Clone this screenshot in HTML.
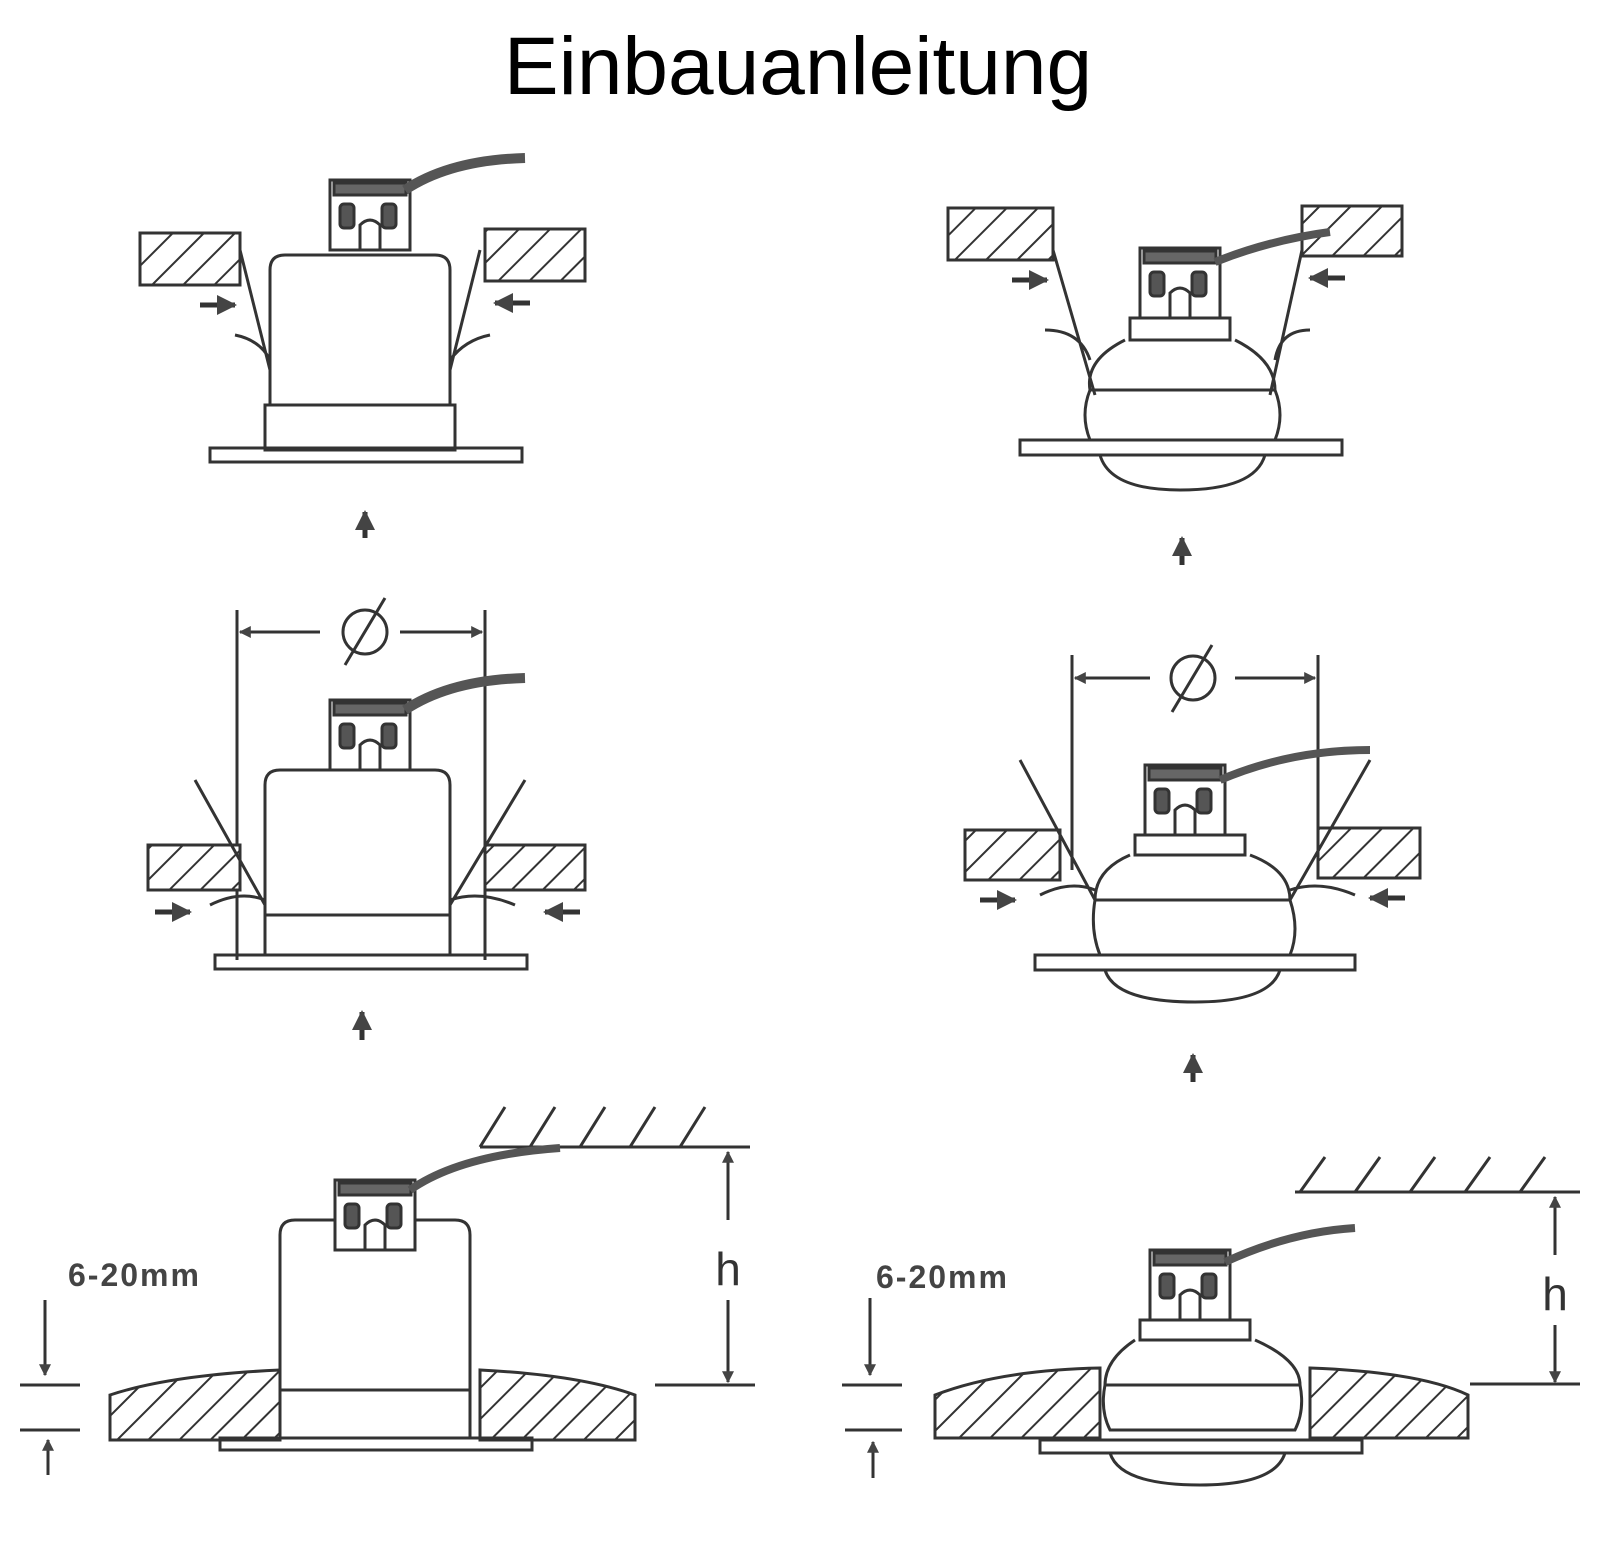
<!DOCTYPE html>
<html><head><meta charset="utf-8"><style>
html,body{margin:0;padding:0;background:#fff}
svg{display:block}
</style></head><body>
<svg width="1600" height="1547" viewBox="0 0 1600 1547" xmlns="http://www.w3.org/2000/svg">
<defs>
<pattern id="h" width="22" height="22" patternUnits="userSpaceOnUse" patternTransform="rotate(45)">
<rect width="22" height="22" fill="#fff"/><line x1="0" y1="0" x2="0" y2="22" stroke="#333" stroke-width="4"/>
</pattern>
<marker id="a" viewBox="0 0 10 10" refX="9" refY="5" markerWidth="4" markerHeight="4" orient="auto-start-reverse"><path d="M0,0L10,5L0,10z" fill="#444"/></marker>
<g id="conn">
<rect x="0" y="0" width="80" height="70" fill="#fff" stroke="#333" stroke-width="3"/>
<rect x="4" y="3" width="72" height="12" fill="#666"/>
<rect x="10" y="24" width="14" height="24" rx="4" fill="#555"/>
<rect x="52" y="24" width="14" height="24" rx="4" fill="#555"/>
<path d="M30,70 V45 Q40,35 50,45 V70" fill="none" stroke="#333" stroke-width="3"/>
</g>
</defs>
<rect width="1600" height="1547" fill="#fff"/>
<text x="798" y="94" font-family="Liberation Sans, sans-serif" font-size="82" text-anchor="middle" fill="#000">Einbauanleitung</text>
<g fill="none" stroke="#333" stroke-width="3">

<!-- Panel 1 -->
<rect x="140" y="233" width="100" height="52" fill="url(#h)"/>
<rect x="485" y="229" width="100" height="52" fill="url(#h)"/>
<path d="M270,405 V270 Q270,255 285,255 H435 Q450,255 450,270 V405"/>
<rect x="265" y="405" width="190" height="45"/>
<rect x="210" y="448" width="312" height="14"/>
<use href="#conn" x="330" y="180"/>
<path d="M405,190 Q450,160 525,158" stroke-width="10" stroke="#555"/>
<path d="M240,250 L270,370 M235,335 Q260,340 270,360 M480,250 L450,370 M490,335 Q465,340 450,360"/>
<line x1="200" y1="305" x2="235" y2="305" marker-end="url(#a)" stroke-width="5"/>
<line x1="530" y1="303" x2="495" y2="303" marker-end="url(#a)" stroke-width="5"/>
<line x1="365" y1="538" x2="365" y2="512" marker-end="url(#a)" stroke-width="5"/>

<!-- Panel 3 -->
<line x1="237" y1="610" x2="237" y2="960"/><line x1="485" y1="610" x2="485" y2="960"/>
<line x1="320" y1="632" x2="240" y2="632" marker-end="url(#a)"/><line x1="400" y1="632" x2="482" y2="632" marker-end="url(#a)"/>
<circle cx="365" cy="632" r="22"/><line x1="345" y1="665" x2="385" y2="598"/>
<rect x="148" y="845" width="92" height="45" fill="url(#h)"/>
<rect x="485" y="845" width="100" height="45" fill="url(#h)"/>
<path d="M265,915 V785 Q265,770 280,770 H435 Q450,770 450,785 V915"/>
<rect x="265" y="915" width="185" height="40"/>
<rect x="215" y="955" width="312" height="14"/>
<use href="#conn" x="330" y="700"/>
<path d="M405,710 Q450,680 525,678" stroke-width="10" stroke="#555"/>
<path d="M195,780 L265,905 M210,905 Q240,890 265,900 M525,780 L450,905 M515,905 Q480,890 450,900"/>
<line x1="155" y1="912" x2="190" y2="912" marker-end="url(#a)" stroke-width="5"/>
<line x1="580" y1="912" x2="545" y2="912" marker-end="url(#a)" stroke-width="5"/>
<line x1="362" y1="1040" x2="362" y2="1012" marker-end="url(#a)" stroke-width="5"/>

<!-- Panel 5 -->
<path d="M480,1147 H750"/>
<path d="M480,1147 l25,-40 M530,1147 l25,-40 M580,1147 l25,-40 M630,1147 l25,-40 M680,1147 l25,-40"/>
<line x1="728" y1="1220" x2="728" y2="1152" marker-end="url(#a)"/><line x1="728" y1="1300" x2="728" y2="1382" marker-end="url(#a)"/>
<text x="728" y="1285" font-family="Liberation Sans, sans-serif" font-size="46" text-anchor="middle" fill="#333" stroke="none">h</text>
<line x1="655" y1="1385" x2="755" y2="1385"/>
<path d="M110,1440 V1395 Q170,1375 280,1370 V1440 Z" fill="url(#h)"/>
<path d="M480,1440 V1370 Q580,1375 635,1395 V1440 Z" fill="url(#h)"/>
<path d="M280,1390 V1235 Q280,1220 295,1220 H455 Q470,1220 470,1235 V1390"/>
<rect x="280" y="1390" width="190" height="48"/>
<rect x="220" y="1438" width="312" height="12"/>
<use href="#conn" x="335" y="1180"/>
<path d="M410,1190 Q460,1155 560,1148" stroke-width="8" stroke="#555"/>
<text x="68" y="1286" font-family="Liberation Sans, sans-serif" font-size="32" font-weight="bold" letter-spacing="2" fill="#444" stroke="none">6-20mm</text>
<line x1="45" y1="1300" x2="45" y2="1375" marker-end="url(#a)"/>
<line x1="20" y1="1385" x2="80" y2="1385"/><line x1="20" y1="1430" x2="80" y2="1430"/>
<line x1="48" y1="1475" x2="48" y2="1440" marker-end="url(#a)"/>

<!-- Panel 2 -->
<rect x="948" y="208" width="105" height="52" fill="url(#h)"/>
<rect x="1302" y="206" width="100" height="50" fill="url(#h)"/>
<use href="#conn" x="1140" y="248"/>
<path d="M1215,262 Q1270,240 1330,232" stroke-width="8" stroke="#555"/>
<path d="M1130,318 H1230 V340 H1130 Z M1125,340 Q1085,360 1090,390 H1275 Q1275,360 1235,340 M1090,390 Q1080,415 1090,440 H1275 Q1285,415 1275,390"/>
<rect x="1020" y="440" width="322" height="15"/>
<path d="M1100,455 Q1110,490 1180,490 Q1255,490 1265,455"/>
<path d="M1053,250 L1095,395 M1045,330 Q1080,330 1090,360 M1302,250 L1270,395 M1310,330 Q1280,330 1275,360"/>
<line x1="1012" y1="280" x2="1047" y2="280" marker-end="url(#a)" stroke-width="5"/>
<line x1="1345" y1="278" x2="1310" y2="278" marker-end="url(#a)" stroke-width="5"/>
<line x1="1182" y1="565" x2="1182" y2="538" marker-end="url(#a)" stroke-width="5"/>

<!-- Panel 4 -->
<line x1="1072" y1="655" x2="1072" y2="870"/><line x1="1318" y1="655" x2="1318" y2="870"/>
<line x1="1150" y1="678" x2="1075" y2="678" marker-end="url(#a)"/><line x1="1235" y1="678" x2="1315" y2="678" marker-end="url(#a)"/>
<circle cx="1193" cy="678" r="22"/><line x1="1172" y1="712" x2="1212" y2="645"/>
<rect x="965" y="830" width="95" height="50" fill="url(#h)"/>
<rect x="1318" y="828" width="102" height="50" fill="url(#h)"/>
<use href="#conn" x="1145" y="765"/>
<path d="M1220,780 Q1290,750 1370,750" stroke-width="8" stroke="#555"/>
<path d="M1135,835 H1245 V855 H1135 Z M1130,855 Q1095,870 1095,900 H1290 Q1290,870 1250,855 M1095,900 Q1090,930 1100,955 H1290 Q1300,930 1290,900"/>
<rect x="1035" y="955" width="320" height="15"/>
<path d="M1105,970 Q1115,1002 1195,1002 Q1270,1002 1280,970"/>
<path d="M1020,760 L1095,900 M1040,895 Q1070,880 1095,890 M1370,760 L1290,900 M1355,895 Q1320,880 1290,890"/>
<line x1="980" y1="900" x2="1015" y2="900" marker-end="url(#a)" stroke-width="5"/>
<line x1="1405" y1="898" x2="1370" y2="898" marker-end="url(#a)" stroke-width="5"/>
<line x1="1193" y1="1082" x2="1193" y2="1055" marker-end="url(#a)" stroke-width="5"/>

<!-- Panel 6 -->
<path d="M1295,1192 H1580"/>
<path d="M1300,1192 l25,-35 M1355,1192 l25,-35 M1410,1192 l25,-35 M1465,1192 l25,-35 M1520,1192 l25,-35"/>
<line x1="1555" y1="1255" x2="1555" y2="1197" marker-end="url(#a)"/><line x1="1555" y1="1325" x2="1555" y2="1382" marker-end="url(#a)"/>
<text x="1555" y="1310" font-family="Liberation Sans, sans-serif" font-size="46" text-anchor="middle" fill="#333" stroke="none">h</text>
<line x1="1470" y1="1384" x2="1580" y2="1384"/>
<path d="M935,1438 V1395 Q1000,1370 1100,1368 V1438 Z" fill="url(#h)"/>
<path d="M1310,1438 V1368 Q1420,1372 1468,1395 V1438 Z" fill="url(#h)"/>
<use href="#conn" x="1150" y="1250"/>
<path d="M1225,1262 Q1290,1232 1355,1228" stroke-width="8" stroke="#555"/>
<path d="M1140,1320 H1250 V1340 H1140 Z M1135,1340 Q1105,1360 1105,1385 H1300 Q1300,1360 1255,1340 M1105,1385 Q1100,1410 1110,1430 H1295 Q1305,1410 1300,1385"/>
<rect x="1040" y="1440" width="322" height="13"/>
<path d="M1110,1453 Q1120,1485 1200,1485 Q1275,1485 1285,1453"/>
<text x="876" y="1288" font-family="Liberation Sans, sans-serif" font-size="32" font-weight="bold" letter-spacing="2" fill="#444" stroke="none">6-20mm</text>
<line x1="870" y1="1298" x2="870" y2="1375" marker-end="url(#a)"/>
<line x1="842" y1="1385" x2="902" y2="1385"/><line x1="845" y1="1430" x2="902" y2="1430"/>
<line x1="873" y1="1478" x2="873" y2="1442" marker-end="url(#a)"/>
</g>
</svg>
</body></html>
